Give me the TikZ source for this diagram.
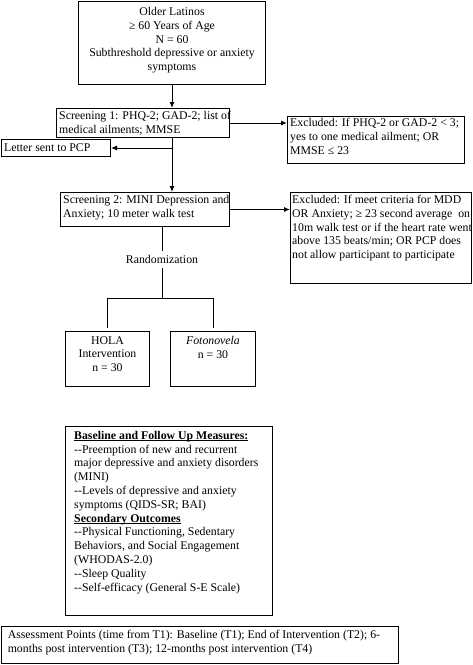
\documentclass[tikz,border=0pt]{standalone}
\usepackage{fontspec}
\setmainfont{Liberation Serif}
\usetikzlibrary{arrows.meta}
\newcommand\myul[1]{\setbox0\hbox{#1}\rlap{\rule[-1.7pt]{\wd0}{0.7pt}}\box0}
\newcommand\hyph{-\kern0pt-}
\tikzset{
  boxx/.style={draw, line width=1pt, inner sep=0pt, anchor=north west},
  txt/.style={anchor=north west, inner sep=0pt, align=left,
    font=\fontsize{11.8}{13.8}\selectfont, execute at begin node={\rule{0pt}{10.7pt}}},
  ctxt/.style={txt, anchor=north, align=center},
  arr/.style={-{Latex[length=6pt,width=5pt]}, line width=1pt},
  ln/.style={line width=1pt}
}
\begin{document}
\begin{tikzpicture}[x=1pt,y=-1pt]
\useasboundingbox (0,0) rectangle (472,665);
% boxes
\node[boxx, minimum width=187pt, minimum height=83.4pt] (top) at (78,0.6) {};
\node[boxx, minimum width=173pt, minimum height=29pt] (s1) at (56,108) {};
\node[boxx, minimum width=177pt, minimum height=47pt] (ex1) at (287,116) {};
\node[boxx, minimum width=109pt, minimum height=17pt] (letter) at (1,139) {};
\node[boxx, minimum width=169pt, minimum height=34pt] (s2) at (60,192) {};
\node[boxx, minimum width=181pt, minimum height=91pt] (ex2) at (290,192) {};
\node[boxx, minimum width=84pt, minimum height=55pt] (hola) at (65,331) {};
\node[boxx, minimum width=85pt, minimum height=55pt] (foto) at (170,331) {};
\node[boxx, minimum width=207pt, minimum height=189pt] (base) at (65,426) {};
\node[boxx, minimum width=397.4pt, minimum height=37pt] (assess) at (0.6,626) {};
% texts
\node[ctxt] (topt) at ([yshift=-6.5pt]top.north) {Older Latinos\\ ≥ 60 Years of Age\\ N = 60\\ Subthreshold depressive or anxiety\\ symptoms};
\node[txt] (s1t) at ([xshift=3pt,yshift=-3pt]s1.north west) {Screening 1: PHQ-2; GAD-2; list of\\ medical ailments; MMSE};
\node[txt] (ex1t) at ([xshift=3pt,yshift=-2pt]ex1.north west) {Excluded: If PHQ-2 or GAD-2 < 3;\\ yes to one medical ailment; OR\\ MMSE ≤ 23};
\node[txt] (lettert) at ([xshift=3pt,yshift=-1.5pt]letter.north west) {Letter sent to PCP};
\node[txt] (s2t) at ([xshift=3pt,yshift=-3pt]s2.north west) {Screening 2: MINI Depression and\\ Anxiety; 10 meter walk test};
\node[txt] (ex2t) at ([xshift=2pt,yshift=-3pt]ex2.north west) {Excluded: If meet criteria for MDD\\ OR Anxiety; ≥ 23 second average\ \ on\\ 10m walk test or if the heart rate went\\ above 135 beats/min; OR PCP does\\ not allow participant to participate};
\node[ctxt] (holat) at ([yshift=-5pt]hola.north) {HOLA\\ Intervention\\ n = 30};
\node[ctxt] (fotot) at ([yshift=-5pt]foto.north) {\textit{Fotonovela}\\ n = 30};
\node[txt] (baset) at ([xshift=9pt,yshift=-5pt]base.north west) {\myul{\textbf{Baseline and Follow Up Measures:}}\\
\hyph Preemption of new and recurrent\\
major depressive and anxiety disorders\\
(MINI)\\
\hyph Levels of depressive and anxiety\\
symptoms (QIDS-SR; BAI)\\
\myul{\textbf{Secondary Outcomes}}\\
\hyph Physical Functioning, Sedentary\\
Behaviors, and Social Engagement\\
(WHODAS-2.0)\\
\hyph Sleep Quality\\
\hyph Self-efficacy (General S-E Scale)};
\node[txt] (assesst) at ([xshift=7pt,yshift=-4pt]assess.north west) {Assessment Points (time from T1): Baseline (T1); End of Intervention (T2); 6-\\ months post intervention (T3); 12-months post intervention (T4)};
\node[font=\fontsize{11.8}{13.8}\selectfont, inner sep=0pt, minimum height=17pt] (rand) at (162,259.5) {Randomization};
% connectors
\draw[arr] (top.south) -- (top.south |- s1.north);
\draw[arr] (s1.east) -- (s1.east -| ex1.west);
\draw[arr] (top.south |- s1.south) -- (top.south |- s2.north);
\coordinate (j1) at (top.south |- letter.east);
\draw[arr] (j1) -- (letter.east);
\draw[arr] (s2.east) -- (s2.east -| ex2.west);
\draw[ln] (rand |- s2.south) -- (rand.north);
\coordinate (br) at (rand |- 0,298);
\draw[ln] (rand.south) -- (br);
\coordinate (bl) at (hola.north |- br);
\coordinate (brr) at (foto.north |- br);
\draw[ln] (bl) -- (brr);
\draw[ln] (bl) -- ([yshift=3pt]hola.north);
\draw[ln] (brr) -- ([yshift=3pt]foto.north);
\end{tikzpicture}
\end{document}
